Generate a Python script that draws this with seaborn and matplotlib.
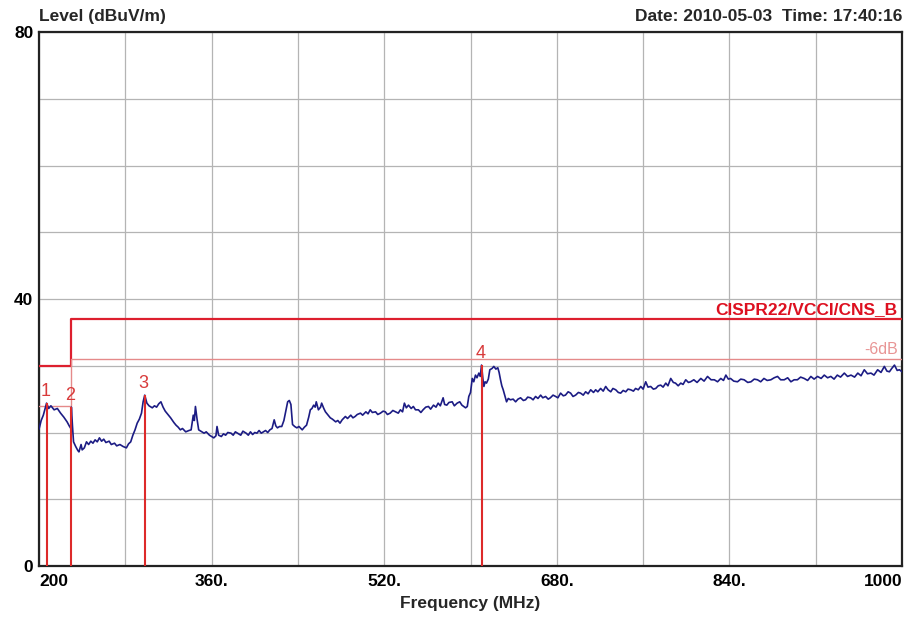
import numpy as np
import pandas as pd
import matplotlib
matplotlib.use("Agg")
import matplotlib.pyplot as plt
import seaborn as sns

# ---------------- data ----------------
trace_freq = [
    200, 202, 204, 206, 207, 209, 211, 214, 217, 220, 223, 226, 228, 229.5, 230, 231, 232, 234, 236, 237,
    239, 240, 242, 244, 246, 248, 250, 252, 254, 256, 258, 260, 262, 265, 267, 270, 272, 275, 278, 281,
    283, 285, 287, 289, 291, 293, 295, 296.5, 298, 300, 302, 305, 307, 309, 311, 313, 315, 317, 319, 322,
    325, 327, 329, 331, 333, 336, 339, 341, 342, 343, 344, 345, 346.5, 348, 350, 353, 355, 358, 360, 362,
    364, 365, 366.5, 369, 371, 373, 375, 378, 380, 382, 385, 387, 389, 392, 394, 396, 398, 400, 402, 404,
    406, 408, 410, 412, 414, 416, 418, 419.5, 421, 423, 425, 427, 428.5, 430.5, 432, 433.5, 435, 437, 439, 441,
    444, 446, 448, 450, 451.5, 453, 454.6, 456, 457, 459, 461, 462, 464, 465.5, 468, 470, 472, 475, 477, 479,
    481, 484, 486, 489, 491, 493, 495, 498, 500, 503, 505, 507, 509, 512, 514, 516.5, 519, 521, 523, 525.5,
    528, 530.5, 533, 535, 537, 538.7, 540.5, 542.5, 545, 547, 549, 551.7, 554, 556, 558.5, 561, 563, 565.7, 568, 570,
    572, 574.6, 576, 578, 580, 583, 585, 587.6, 590, 592, 595.4, 597, 598.4, 600, 601.6, 603, 604.6, 606, 607.7, 609,
    610.2, 611.5, 612.4, 613.5, 614.8, 616.5, 617.9, 620, 621.6, 623.5, 625.3, 626.5, 627.8, 629, 630.3, 632, 633.4, 635, 637, 639.5,
    641.8, 644, 646.4, 649, 651, 653, 655.7, 658, 660.3, 662.5, 665, 667, 669.6, 672, 674, 676.5, 678.9, 681, 683.5, 686,
    688, 690.5, 692.8, 695, 697.4, 700, 702, 704.5, 706.7, 709, 711.4, 714, 716, 718, 720.6, 723, 725.3, 727.5, 730, 732,
    734.6, 737, 739.2, 741.5, 743.9, 746, 748.5, 751, 753, 755.5, 757.8, 760, 762.4, 764.5, 767, 769.5, 771.7, 774, 776.3, 778.5,
    781, 783, 785.6, 788, 790, 792.5, 794.9, 797, 799.5, 802, 804, 807, 810, 813.5, 816.5, 819.7, 823, 826, 829, 832,
    834.5, 836.7, 839, 841, 844, 847.5, 850.5, 853.6, 857, 860, 863, 866, 869, 872, 875, 878.4, 881.5, 884.6, 887.5, 890.8,
    894, 897, 900, 903, 906, 909.3, 912.5, 915.5, 918.5, 921.7, 925, 927.9, 931, 934, 937, 940, 943, 946.5, 949.5, 952.7,
    956, 959, 962, 965, 968, 971.2, 974, 977.4, 980.5, 983.6, 986, 988.3, 990.5, 993, 995.5, 997.6, 1000,
]
trace_level = [
    20.5, 21.8, 22.6, 23.8, 24.4, 23.6, 24.0, 23.4, 23.6, 22.9, 22.3, 21.6, 21.0, 20.6, 23.8, 21.0, 18.6, 17.9, 17.3, 17.1,
    18.2, 17.4, 17.7, 18.6, 18.2, 18.7, 18.4, 18.9, 18.6, 19.2, 18.7, 19.0, 18.5, 18.7, 18.2, 18.4, 18.0, 18.2, 17.9, 17.7,
    18.3, 18.6, 19.6, 20.4, 21.4, 22.0, 22.9, 24.6, 25.6, 24.4, 24.0, 23.7, 24.0, 23.8, 24.3, 24.6, 23.8, 23.2, 22.8, 22.2,
    21.5, 21.1, 20.8, 20.4, 20.6, 20.1, 20.3, 20.4, 21.5, 22.6, 21.8, 23.9, 22.0, 20.4, 20.2, 19.9, 20.1, 19.6, 19.4, 19.2,
    19.5, 20.9, 19.6, 19.4, 19.8, 19.6, 20.0, 19.9, 19.6, 20.1, 19.8, 19.6, 20.2, 19.9, 19.6, 20.1, 19.7, 20.0, 19.9, 20.3,
    19.9, 20.1, 20.3, 20.0, 20.4, 20.6, 21.9, 21.0, 20.7, 20.9, 20.9, 21.8, 23.0, 24.6, 24.8, 24.2, 21.2, 20.9, 20.7, 20.9,
    20.4, 20.8, 21.1, 22.3, 23.4, 23.6, 24.1, 23.8, 24.6, 23.4, 23.8, 24.4, 23.6, 23.1, 22.6, 22.2, 22.0, 21.6, 21.8, 21.4,
    21.9, 22.4, 22.1, 22.6, 22.2, 22.4, 22.7, 22.9, 22.6, 23.1, 22.8, 23.4, 23.0, 23.1, 22.7, 22.9, 23.2, 23.1, 22.7, 22.9,
    23.3, 23.1, 22.9, 23.4, 23.1, 24.4, 23.7, 24.1, 23.6, 23.9, 23.4, 23.4, 23.0, 23.4, 23.8, 23.9, 23.5, 24.1, 23.8, 24.4,
    24.0, 25.2, 24.2, 24.1, 24.5, 24.6, 24.0, 24.4, 24.6, 24.1, 23.7, 23.9, 25.4, 26.0, 28.1, 27.6, 28.6, 28.2, 28.9, 28.4,
    30.1, 28.0, 26.9, 27.6, 27.4, 28.0, 29.4, 29.6, 29.9, 29.5, 29.7, 29.0, 27.9, 27.0, 26.4, 25.4, 24.6, 25.1, 24.9, 25.0,
    24.6, 25.0, 25.2, 24.8, 24.9, 25.3, 25.2, 24.9, 25.4, 25.1, 25.6, 25.2, 25.4, 25.0, 25.2, 25.6, 25.4, 25.2, 25.9, 25.5,
    25.6, 26.1, 25.9, 25.4, 25.6, 26.0, 25.9, 25.6, 26.1, 25.8, 26.4, 26.0, 26.4, 26.1, 26.6, 26.2, 26.9, 26.4, 26.1, 26.6,
    26.4, 26.0, 25.9, 26.3, 26.1, 26.5, 26.4, 26.2, 26.6, 26.4, 26.9, 26.5, 27.6, 26.8, 26.9, 26.5, 26.6, 27.0, 27.1, 26.8,
    27.4, 27.0, 28.1, 27.5, 27.4, 27.0, 27.4, 27.2, 27.9, 27.5, 27.6, 27.9, 27.5, 28.1, 27.7, 28.4, 27.9, 27.9, 27.6, 28.1,
    27.8, 28.6, 28.0, 28.1, 27.7, 27.6, 28.0, 27.9, 27.5, 27.6, 28.0, 27.9, 27.6, 28.1, 27.8, 27.9, 28.2, 28.4, 27.9, 27.9,
    28.2, 27.6, 27.9, 27.9, 28.3, 28.1, 27.8, 28.4, 28.0, 28.4, 28.1, 28.6, 28.2, 28.4, 28.0, 28.6, 28.3, 28.9, 28.4, 28.6,
    28.3, 28.9, 28.5, 29.4, 28.8, 28.9, 28.6, 29.4, 29.0, 29.9, 29.2, 29.1, 29.6, 30.1, 29.3, 29.4, 29.1,
]

limit_freq = [200, 230, 230, 1000]
limit_level = [30, 30, 37, 37]
margin_freq = [200, 230, 230, 1000]
margin_level = [24, 24, 31, 31]

marker_labels = ["1", "2", "3", "4"]
marker_freq = [207, 230, 298, 611]
marker_level = [24.4, 23.8, 25.6, 30.1]

x_ticks = [200, 280, 360, 440, 520, 600, 680, 760, 840, 920, 1000]
x_ticklabels = ["200", "", "360.", "", "520.", "", "680.", "", "840.", "", "1000"]
y_ticks = [0, 10, 20, 30, 40, 50, 60, 70, 80]
y_ticklabels = ["0", "", "", "", "40", "", "", "", "80"]

limit_name = "CISPR22/VCCI/CNS_B"
margin_name = "-6dB"
y_title = "Level (dBuV/m)"
x_title = "Frequency (MHz)"
stamp = "Date: 2010-05-03  Time: 17:40:16"

# ---------------- style ----------------
sns.set_theme(style="white")
plt.rcParams["font.family"] = ["Liberation Sans", "DejaVu Sans"]

FS = 12.5

fig = plt.figure(figsize=(9.18, 6.19), dpi=100)
fig.patch.set_facecolor("white")
ax = fig.add_axes([0.0425, 0.0856, 0.9401, 0.8627])
ax.set_facecolor("white")

df = pd.DataFrame({"freq": trace_freq, "level": trace_level})
sns.lineplot(data=df, x="freq", y="level", ax=ax, color="#1c1c84",
             linewidth=1.2, estimator=None, sort=False, zorder=4)

lim_df = pd.DataFrame({"freq": limit_freq, "level": limit_level})
sns.lineplot(data=lim_df, x="freq", y="level", ax=ax, color="#dd1f2e",
             linewidth=1.6, estimator=None, sort=False, zorder=3)
mar_df = pd.DataFrame({"freq": margin_freq, "level": margin_level})
sns.lineplot(data=mar_df, x="freq", y="level", ax=ax, color="#e58a8a",
             linewidth=1.0, estimator=None, sort=False, zorder=3)

ax.vlines(marker_freq, 0, marker_level, colors="#dd2a2a", linewidth=1.5, zorder=5)
for lab, f, lv in zip(marker_labels, marker_freq, marker_level):
    ax.annotate(lab, (f, lv), xytext=(-1, 2), textcoords="offset points",
                ha="center", va="bottom", color="#d83a3a", fontsize=13, zorder=6)

ax.text(996, 37.3, limit_name, color="#dd1020", fontsize=FS, fontweight="bold",
        ha="right", va="bottom")
ax.text(996, 31.3, margin_name, color="#e89595", fontsize=11.5,
        ha="right", va="bottom")

ax.set_xlim(200, 1000)
ax.set_ylim(0, 80)
ax.set_xticks(x_ticks)
ax.set_xticklabels(x_ticklabels, fontsize=FS, fontweight="bold")
ax.set_yticks(y_ticks)
ax.set_yticklabels(y_ticklabels, fontsize=FS, fontweight="bold")
xl = ax.get_xticklabels()
xl[0].set_ha("left")
xl[-1].set_ha("right")
ax.tick_params(axis="x", length=0, pad=6, colors="black")
ax.tick_params(axis="y", length=0, pad=4, colors="black")
ax.grid(True, color="#b4b4b4", linewidth=0.9)
for s in ax.spines.values():
    s.set_color("#222222")
    s.set_linewidth(1.6)
ax.set_xlabel(x_title, fontsize=FS, fontweight="bold", labelpad=5)
ax.set_ylabel("")
ax.text(0.0, 1.015, y_title, transform=ax.transAxes, fontsize=FS, fontweight="bold",
        ha="left", va="bottom")
ax.text(1.0, 1.015, stamp, transform=ax.transAxes, fontsize=FS, fontweight="bold",
        ha="right", va="bottom")

fig.savefig("out.png", dpi=100, facecolor="white")
